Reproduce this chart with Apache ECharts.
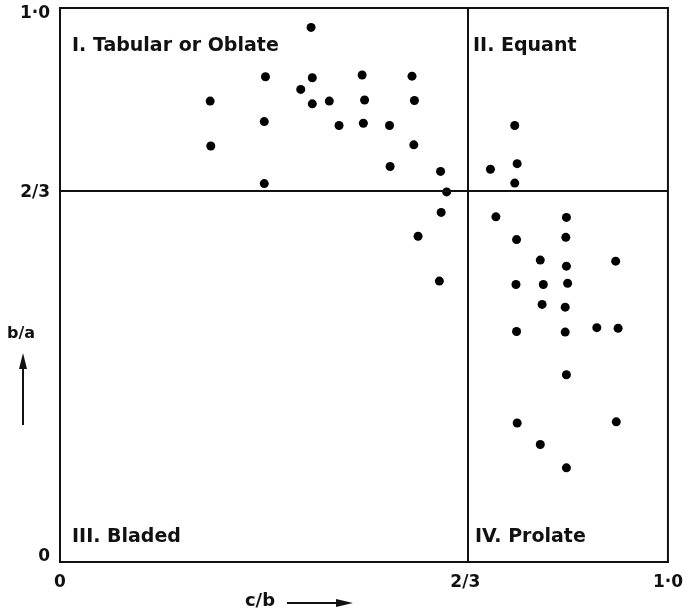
<!DOCTYPE html>
<html>
<head>
<meta charset="utf-8">
<script src="https://cdn.jsdelivr.net/npm/echarts@6/dist/echarts.min.js"></script>
<style>
  html, body { margin: 0; padding: 0; background: #fff; }
  #chart { width: 686px; height: 612px; }
</style>
</head>
<body>
<div id="chart"></div>
<script>
// Zingg shape classification: axis ratios of individual clasts
const cbRatio = [
  0.413, 0.338, 0.415, 0.497, 0.579, 0.396, 0.247, 0.415, 0.443, 0.501,
  0.583, 0.336, 0.459, 0.499, 0.542, 0.248, 0.582, 0.543, 0.626, 0.336,
  0.636, 0.627, 0.589, 0.624,
  0.748, 0.752, 0.708, 0.748, 0.717, 0.833, 0.751, 0.832, 0.790, 0.833,
  0.914, 0.750, 0.795, 0.835, 0.793, 0.831, 0.751, 0.831, 0.883, 0.918,
  0.833, 0.752, 0.915, 0.790, 0.833
];
const baRatio = [
  0.965, 0.876, 0.874, 0.879, 0.877, 0.853, 0.832, 0.827, 0.832, 0.834,
  0.833, 0.795, 0.788, 0.792, 0.788, 0.751, 0.753, 0.714, 0.705, 0.683,
  0.668, 0.631, 0.588, 0.507,
  0.788, 0.719, 0.709, 0.684, 0.623, 0.622, 0.582, 0.586, 0.545, 0.534,
  0.543, 0.501, 0.501, 0.503, 0.465, 0.460, 0.416, 0.415, 0.423, 0.422,
  0.338, 0.251, 0.253, 0.212, 0.170
];

// Class boundaries and tick labels
const boundary = 2 / 3;
const tickValues = [0, 2 / 3, 1];
const tickLabels = ['0', '2/3', '1·0'];
const quadrantNames = ['I. Tabular or Oblate', 'II. Equant', 'III. Bladed', 'IV. Prolate'];
const axisNames = ['c/b', 'b/a'];

const points = cbRatio.map((x, i) => [x, baRatio[i]]);

function tickText(v) {
  for (let i = 0; i < tickValues.length; i++) {
    if (Math.abs(v - tickValues[i]) < 1e-3) return i;
  }
  return -1;
}

const INK = '#111';
const FONT = '"DejaVu Sans", sans-serif';
const NAME_FONT = 'bold 19px ' + FONT;

const chart = echarts.init(document.getElementById('chart'), null, { renderer: 'canvas' });

chart.setOption({
  animation: false,
  backgroundColor: '#fff',
  grid: {
    left: 60, right: 15, top: 8, bottom: 50,
    show: true, borderColor: INK, borderWidth: 2
  },
  xAxis: {
    type: 'value', min: 0, max: 1, interval: 1 / 3,
    axisLine: { show: false }, axisTick: { show: false }, splitLine: { show: false },
    axisLabel: {
      margin: 12, color: INK, fontFamily: FONT, fontSize: 17, fontWeight: 'bold',
      formatter: v => { const i = tickText(v); return i < 0 ? '' : tickLabels[i]; }
    }
  },
  yAxis: {
    type: 'value', min: 0, max: 1, interval: 1 / 3,
    axisLine: { show: false }, axisTick: { show: false }, splitLine: { show: false },
    axisLabel: {
      margin: 10, color: INK, fontFamily: FONT, fontSize: 17, fontWeight: 'bold',
      formatter: v => {
        const i = tickText(v);
        if (i < 0) return '';
        if (i === 0) return '{lo|' + tickLabels[i] + '}';
        if (i === tickLabels.length - 1) return '{hi|' + tickLabels[i] + '}';
        return tickLabels[i];
      },
      rich: {
        lo: { color: INK, fontFamily: FONT, fontSize: 17, fontWeight: 'bold', padding: [0, 0, 10, 0] },
        hi: { color: INK, fontFamily: FONT, fontSize: 17, fontWeight: 'bold', padding: [12, 0, 0, 0] }
      }
    }
  },
  series: [{
    type: 'scatter',
    data: points,
    symbol: 'circle',
    symbolSize: 9,
    itemStyle: { color: '#000', opacity: 1 },
    markLine: {
      silent: true,
      symbol: 'none',
      label: { show: false },
      lineStyle: { color: INK, width: 2, type: 'solid', opacity: 1 },
      data: [{ xAxis: boundary }, { yAxis: boundary }]
    }
  }],
  graphic: [
    { type: 'text', x: 72, y: 46, style: { text: quadrantNames[0], fill: INK, font: NAME_FONT, verticalAlign: 'middle' } },
    { type: 'text', x: 473, y: 46, style: { text: quadrantNames[1], fill: INK, font: NAME_FONT, verticalAlign: 'middle' } },
    { type: 'text', x: 72, y: 537, style: { text: quadrantNames[2], fill: INK, font: NAME_FONT, verticalAlign: 'middle' } },
    { type: 'text', x: 475, y: 537, style: { text: quadrantNames[3], fill: INK, font: NAME_FONT, verticalAlign: 'middle' } },
    // y-axis name with an upward arrow
    { type: 'text', x: 21, y: 334, style: { text: axisNames[1], fill: INK, font: 'bold 16px ' + FONT, align: 'center', verticalAlign: 'middle' } },
    { type: 'line', shape: { x1: 23, y1: 425, x2: 23, y2: 364 }, style: { stroke: INK, lineWidth: 2 } },
    { type: 'polygon', shape: { points: [[23, 353], [19, 369], [27, 369]] }, style: { fill: INK } },
    // x-axis name with a rightward arrow
    { type: 'text', x: 260, y: 601, style: { text: axisNames[0], fill: INK, font: 'bold 18px ' + FONT, align: 'center', verticalAlign: 'middle' } },
    { type: 'line', shape: { x1: 287, y1: 603, x2: 340, y2: 603 }, style: { stroke: INK, lineWidth: 2 } },
    { type: 'polygon', shape: { points: [[353, 603], [336, 599], [336, 607]] }, style: { fill: INK } }
  ]
});
</script>
</body>
</html>
